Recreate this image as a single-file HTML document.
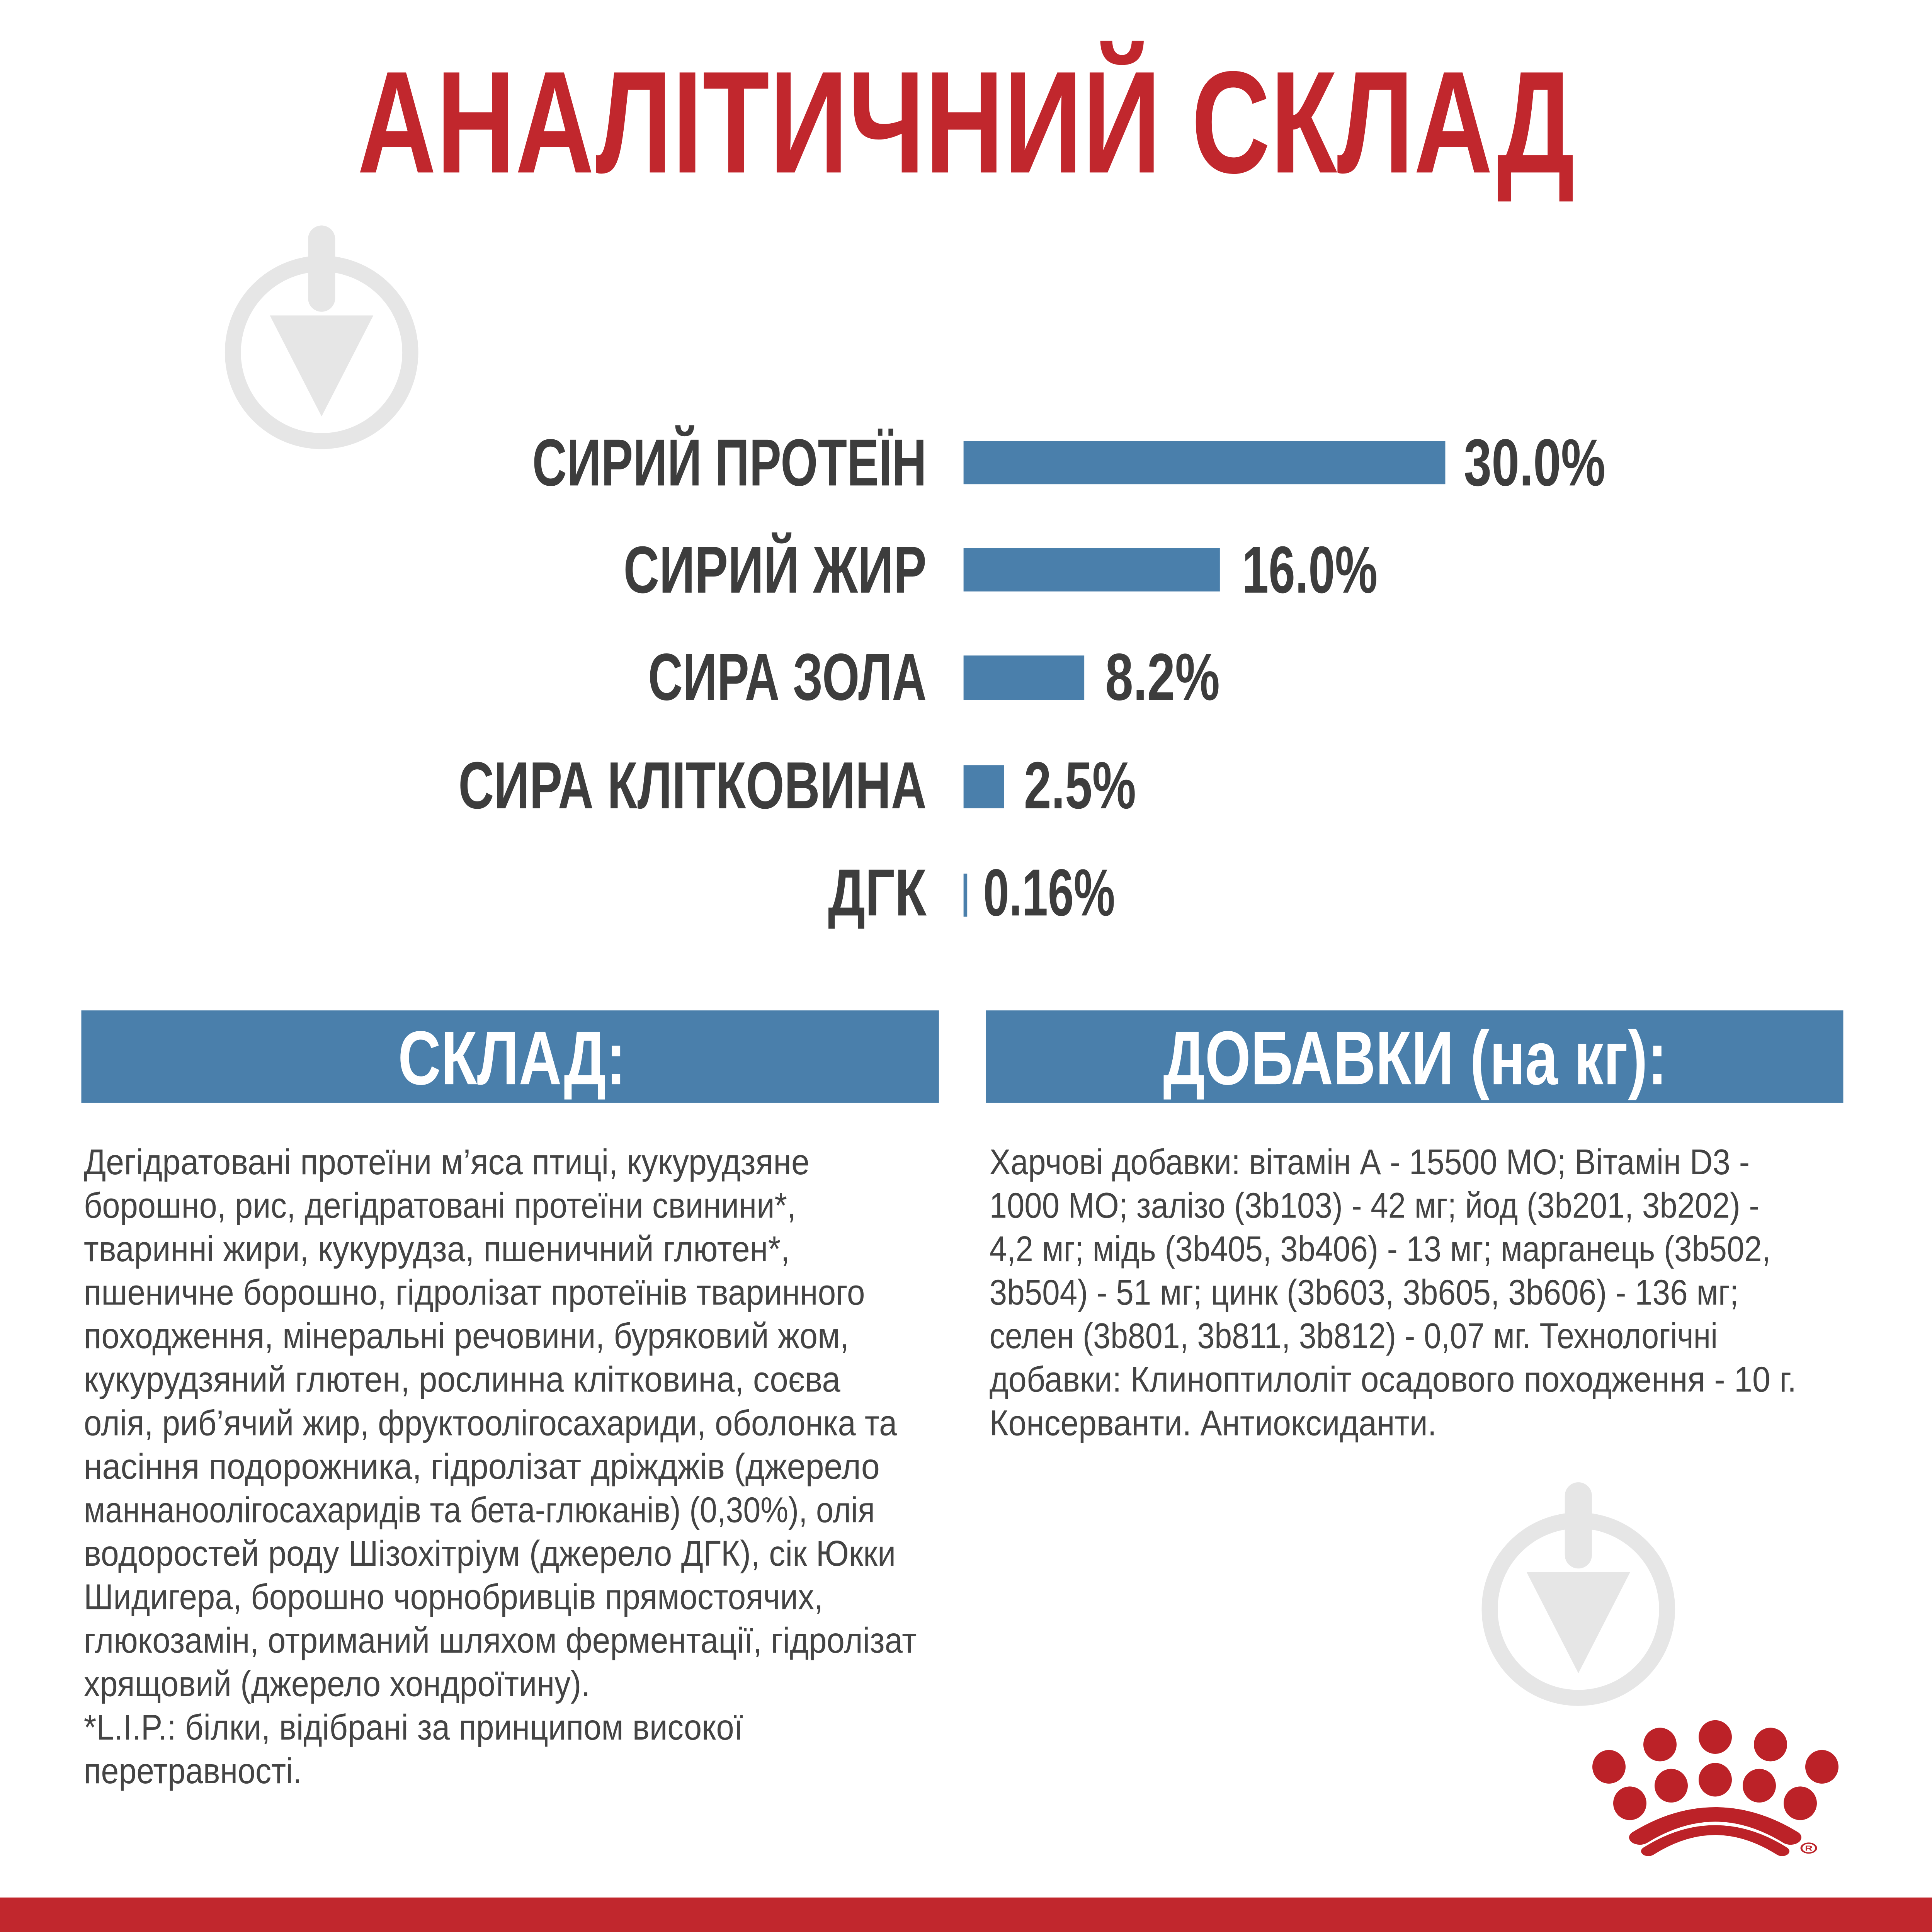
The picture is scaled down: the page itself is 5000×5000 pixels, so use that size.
<!DOCTYPE html>
<html><head><meta charset="utf-8"><style>
html,body{margin:0;padding:0;background:#fff}
svg{display:block}
</style></head><body>
<svg width="5000" height="5000" viewBox="0 0 1568 1568" xmlns="http://www.w3.org/2000/svg">
<rect width="1568" height="1568" fill="#fff"/>
<g fill="none" stroke="#e6e6e6">
<circle cx="261" cy="286" r="72" stroke-width="13"/>
<circle cx="1281" cy="1306" r="72" stroke-width="13"/>
</g>
<g fill="#e6e6e6">
<rect x="250" y="183" width="22" height="70" rx="11"/>
<polygon points="219,256 303,256 261,338"/>
<rect x="1270" y="1203" width="22" height="70" rx="11"/>
<polygon points="1239,1276 1323,1276 1281,1358"/>
</g>
<text x="290" y="140" textLength="988" lengthAdjust="spacingAndGlyphs" font-family="Liberation Sans, sans-serif" font-weight="bold" font-size="118" fill="#c1272d">АНАЛІТИЧНИЙ СКЛАД</text>
<g font-family="Liberation Sans, sans-serif" font-weight="bold" font-size="54" fill="#3d3d3d">
<text x="432" y="394" textLength="320" lengthAdjust="spacingAndGlyphs">СИРИЙ ПРОТЕЇН</text>
<text x="506" y="481" textLength="246" lengthAdjust="spacingAndGlyphs">СИРИЙ ЖИР</text>
<text x="526" y="568" textLength="226" lengthAdjust="spacingAndGlyphs">СИРА ЗОЛА</text>
<text x="372" y="656" textLength="380" lengthAdjust="spacingAndGlyphs">СИРА КЛІТКОВИНА</text>
<text x="672" y="743" textLength="80" lengthAdjust="spacingAndGlyphs">ДГК</text>
<text x="1188" y="394" textLength="115" lengthAdjust="spacingAndGlyphs">30.0%</text>
<text x="1008" y="481" textLength="110" lengthAdjust="spacingAndGlyphs">16.0%</text>
<text x="897" y="568" textLength="93" lengthAdjust="spacingAndGlyphs">8.2%</text>
<text x="831" y="656" textLength="91" lengthAdjust="spacingAndGlyphs">2.5%</text>
<text x="798" y="743" textLength="107" lengthAdjust="spacingAndGlyphs">0.16%</text>
</g>
<g fill="#4a7fab">
<rect x="782" y="358" width="391" height="35"/>
<rect x="782" y="445" width="208" height="35"/>
<rect x="782" y="532" width="98" height="36"/>
<rect x="782" y="621" width="33" height="35"/>
<rect x="782" y="709" width="3" height="35"/>
<rect x="66" y="820" width="696" height="75"/>
<rect x="800" y="820" width="696" height="75"/>
</g>
<g font-family="Liberation Sans, sans-serif" font-weight="bold" font-size="62" fill="#fff">
<text x="323" y="880" textLength="185" lengthAdjust="spacingAndGlyphs">СКЛАД:</text>
<text x="944" y="880" textLength="409" lengthAdjust="spacingAndGlyphs">ДОБАВКИ (на кг):</text>
</g>
<g font-family="Liberation Sans, sans-serif" font-size="29" fill="#444">
<text x="68" y="953" textLength="589" lengthAdjust="spacingAndGlyphs">Дегідратовані протеїни м’яса птиці, кукурудзяне</text>
<text x="68" y="988.3" textLength="578" lengthAdjust="spacingAndGlyphs">борошно, рис, дегідратовані протеїни свинини*,</text>
<text x="68" y="1023.6" textLength="573" lengthAdjust="spacingAndGlyphs">тваринні жири, кукурудза, пшеничний глютен*,</text>
<text x="68" y="1058.9" textLength="634" lengthAdjust="spacingAndGlyphs">пшеничне борошно, гідролізат протеїнів тваринного</text>
<text x="68" y="1094.2" textLength="621" lengthAdjust="spacingAndGlyphs">походження, мінеральні речовини, буряковий жом,</text>
<text x="68" y="1129.5" textLength="614" lengthAdjust="spacingAndGlyphs">кукурудзяний глютен, рослинна клітковина, соєва</text>
<text x="68" y="1164.8" textLength="660" lengthAdjust="spacingAndGlyphs">олія, риб’ячий жир, фруктоолігосахариди, оболонка та</text>
<text x="68" y="1200.1" textLength="646" lengthAdjust="spacingAndGlyphs">насіння подорожника, гідролізат дріжджів (джерело</text>
<text x="68" y="1235.4" textLength="642" lengthAdjust="spacingAndGlyphs">маннаноолігосахаридів та бета-глюканів) (0,30%), олія</text>
<text x="68" y="1270.7" textLength="659" lengthAdjust="spacingAndGlyphs">водоростей роду Шізохітріум (джерело ДГК), сік Юкки</text>
<text x="68" y="1306" textLength="600" lengthAdjust="spacingAndGlyphs">Шидигера, борошно чорнобривців прямостоячих,</text>
<text x="68" y="1341.3" textLength="676" lengthAdjust="spacingAndGlyphs">глюкозамін, отриманий шляхом ферментації, гідролізат</text>
<text x="68" y="1376.6" textLength="411" lengthAdjust="spacingAndGlyphs">хрящовий (джерело хондроїтину).</text>
<text x="68" y="1411.9" textLength="535" lengthAdjust="spacingAndGlyphs">*L.I.P.: білки, відібрані за принципом високої</text>
<text x="68" y="1447.2" textLength="177" lengthAdjust="spacingAndGlyphs">перетравності.</text>
<text x="803" y="953" textLength="617" lengthAdjust="spacingAndGlyphs">Харчові добавки: вітамін А - 15500 МО; Вітамін D3 -</text>
<text x="803" y="988.3" textLength="625" lengthAdjust="spacingAndGlyphs">1000 МО; залізо (3b103) - 42 мг; йод (3b201, 3b202) -</text>
<text x="803" y="1023.6" textLength="634" lengthAdjust="spacingAndGlyphs">4,2 мг; мідь (3b405, 3b406) - 13 мг; марганець (3b502,</text>
<text x="803" y="1058.9" textLength="608" lengthAdjust="spacingAndGlyphs">3b504) - 51 мг; цинк (3b603, 3b605, 3b606) - 136 мг;</text>
<text x="803" y="1094.2" textLength="591" lengthAdjust="spacingAndGlyphs">селен (3b801, 3b811, 3b812) - 0,07 мг. Технологічні</text>
<text x="803" y="1129.5" textLength="655" lengthAdjust="spacingAndGlyphs">добавки: Клиноптилоліт осадового походження - 10 г.</text>
<text x="803" y="1164.8" textLength="363" lengthAdjust="spacingAndGlyphs">Консерванти. Антиоксиданти.</text>
</g>
<g transform="translate(0,1396) scale(1,0.67) translate(0,-1396)">
<g transform="scale(0.3136)" fill="#bc2228">
<ellipse cx="4164" cy="4632" rx="43" ry="65"/>
<ellipse cx="4296" cy="4546" rx="43" ry="65"/>
<ellipse cx="4439" cy="4517" rx="43" ry="65"/>
<ellipse cx="4582" cy="4546" rx="43" ry="65"/>
<ellipse cx="4715" cy="4632" rx="43" ry="65"/>
<ellipse cx="4218" cy="4773" rx="43" ry="65"/>
<ellipse cx="4325" cy="4705" rx="43" ry="65"/>
<ellipse cx="4439" cy="4682" rx="43" ry="65"/>
<ellipse cx="4553" cy="4705" rx="43" ry="65"/>
<ellipse cx="4659" cy="4773" rx="43" ry="65"/>
<path d="M4244 4905 Q4439 4727 4634 4905" fill="none" stroke="#bc2228" stroke-width="56" stroke-linecap="round"/>
<path d="M4266 4958 Q4439 4795 4612 4958" fill="none" stroke="#bc2228" stroke-width="38" stroke-linecap="round"/>
<circle cx="4681" cy="4946" r="19" fill="none" stroke="#bc2228" stroke-width="5"/>
<text x="4681" y="4956" font-family="Liberation Sans, sans-serif" font-weight="bold" font-size="27" text-anchor="middle">R</text>
</g>
</g>
<rect x="0" y="1540" width="1568" height="28" fill="#c1272d"/>
</svg>
</body></html>
